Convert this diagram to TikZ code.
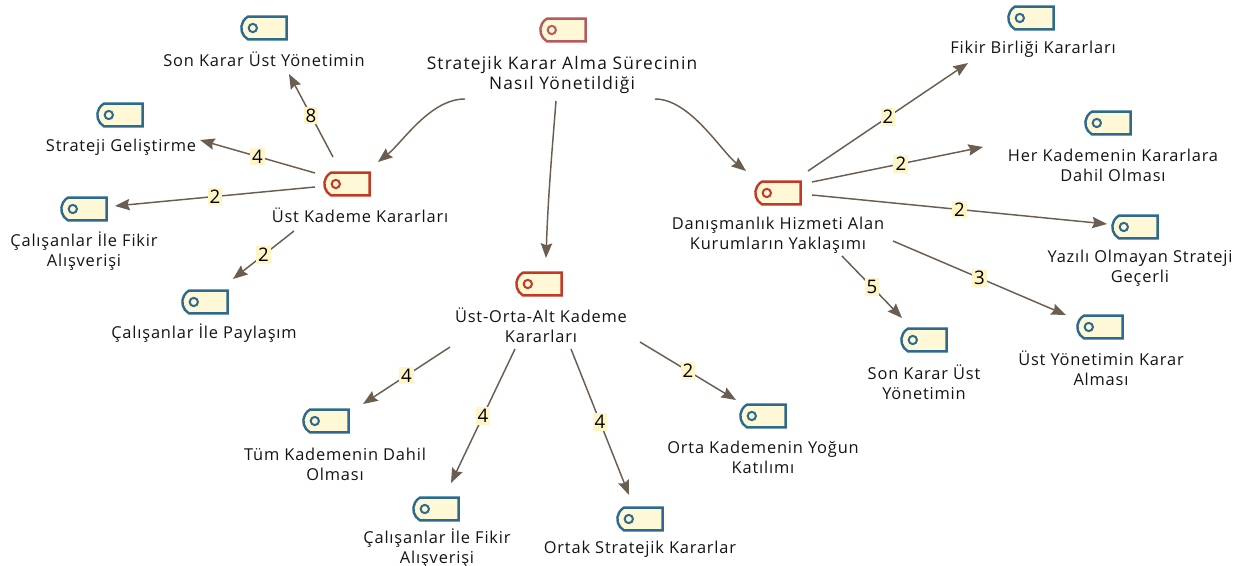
\documentclass[tikz,border=0pt]{standalone}
\usepackage{fontspec}
\setmainfont{Open Sans}[LetterSpace=5]
\newfontfamily\rootfont{Open Sans}[LetterSpace=7]
\usetikzlibrary{shapes.misc,arrows.meta}
\definecolor{iconfill}{HTML}{FFF8D6}
\definecolor{numfill}{HTML}{FFF5C6}
\definecolor{bluec}{HTML}{2D6A8E}
\definecolor{redc}{HTML}{C23A26}
\definecolor{rootc}{HTML}{B65A5E}
\definecolor{edgec}{HTML}{6B5E50}
\definecolor{textc}{HTML}{141414}
\tikzset{
  icon/.style={shape=rounded rectangle, rounded rectangle right arc=none,
    rounded rectangle arc length=120, minimum width=34pt, minimum height=17pt,
    inner sep=0pt, draw=#1, line width=1.8pt, fill=iconfill,
    path picture={\draw[#1,line width=1.5pt] ([xshift=10pt]path picture bounding box.west) circle (3.1pt);}},
  lbl/.style={align=center, font=\fontsize{12.3}{15}\selectfont, text=textc, inner sep=0pt},
  rootlbl/.style={align=center, font=\rootfont\fontsize{13}{15}\selectfont, text=textc, inner sep=0pt},
  num/.style={fill=numfill, inner sep=1.6pt, font=\fontsize{14}{15}\selectfont, text=black},
  edge/.style={draw=edgec, line width=1.1pt, -{Stealth[length=11pt,width=8.5pt,inset=1.5pt]}}
}
\begin{document}
\begin{tikzpicture}[x=0.75pt,y=-0.75pt]
\useasboundingbox[fill=white] (0,0) rectangle (1243,566);
% root
\node[icon=rootc] (root) at (563,30) {};
\node[rootlbl] (rootl) at (562,75.5) {Stratejik Karar Alma Sürecinin\\Nasıl Yönetildiği};
% main branches
\node[icon=redc] (uk) at (347,184) {};
\node[lbl] (ukl) at (360,215) {Üst Kademe Kararları};
\node[icon=redc] (uoa) at (539,284) {};
\node[lbl] (uoal) at (541,325.5) {Üst-Orta-Alt Kademe\\Kararları};
\node[icon=redc] (dh) at (778,193) {};
\node[lbl] (dhl) at (778,235) {Danışmanlık Hizmeti Alan\\Kurumların Yaklaşımı};
% leaves of uk
\node[icon=bluec] (skl) at (264,28) {};
\node[lbl] (skll) at (264,59) {Son Karar Üst Yönetimin};
\node[icon=bluec] (sg) at (120,115) {};
\node[lbl] (sgl) at (121,147) {Strateji Geliştirme};
\node[icon=bluec] (cfl) at (84,209) {};
\node[lbl] (cfll) at (84,251) {Çalışanlar İle Fikir\\Alışverişi};
\node[icon=bluec] (cp) at (205,302) {};
\node[lbl] (cpl) at (204,333) {Çalışanlar İle Paylaşım};
% leaves of uoa
\node[icon=bluec] (tk) at (326,421) {};
\node[lbl] (tkl) at (335,464) {Tüm Kademenin Dahil\\Olması};
\node[icon=bluec] (cfb) at (436,509) {};
\node[lbl] (cfbl) at (437,548.5) {Çalışanlar İle Fikir\\Alışverişi};
\node[icon=bluec] (ortak) at (640,519) {};
\node[lbl] (ortakl) at (640,549) {Ortak Stratejik Kararlar};
\node[icon=bluec] (ok) at (763,416) {};
\node[lbl] (okl) at (763,457.5) {Orta Kademenin Yoğun\\Katılımı};
% leaves of dh
\node[icon=bluec] (fb) at (1031,18) {};
\node[lbl] (fbl) at (1033,49) {Fikir Birliği Kararları};
\node[icon=bluec] (hk) at (1108,123) {};
\node[lbl] (hkl) at (1113,165) {Her Kademenin Kararlara\\Dahil Olması};
\node[icon=bluec] (ya) at (1135,227) {};
\node[lbl] (yal) at (1140,268) {Yazılı Olmayan Strateji\\Geçerli};
\node[icon=bluec] (skr) at (924,340) {};
\node[lbl] (skrl) at (924,382) {Son Karar Üst\\Yönetimin};
\node[icon=bluec] (uy) at (1100,327) {};
\node[lbl] (uyl) at (1101,368) {Üst Yönetimin Karar\\Alması};
% root curves
\draw[edge] ([shift={(-98,69)}]root.center) .. controls +(-35,0) and +(25,-20) .. ([shift={(31,-22)}]uk.center);
\draw[edge] ([shift={(-7,71)}]root.center) .. controls +(-4,50) and +(2,-60) .. ([shift={(7,-26)}]uoa.center);
\draw[edge] ([shift={(92,69)}]root.center) .. controls +(35,0) and +(-25,-20) .. ([shift={(-32,-22)}]dh.center);
% uk edges
\draw[edge] ([shift={(-14,-27)}]uk.center) -- node[num]{8} ([shift={(25,46)}]skl.center);
\draw[edge] ([shift={(-32,-11)}]uk.center) -- node[num]{4} ([shift={(80,25)}]sg.center);
\draw[edge] ([shift={(-32,3)}]uk.center) -- node[num]{2} ([shift={(31,-3)}]cfl.center);
\draw[edge] ([shift={(-53,47)}]uk.center) -- node[num]{2} ([shift={(28,-23)}]cp.center);
% uoa edges
\draw[edge] ([shift={(-89,63)}]uoa.center) -- node[num]{4} ([shift={(37,-17)}]tk.center);
\draw[edge] ([shift={(-24,65)}]uoa.center) -- node[num]{4} ([shift={(15,-26)}]cfb.center);
\draw[edge] ([shift={(32,65)}]uoa.center) -- node[num]{4} ([shift={(-11,-24)}]ortak.center);
\draw[edge] ([shift={(101,58)}]uoa.center) -- node[num]{2} ([shift={(-27,-16)}]ok.center);
% dh edges
\draw[edge] ([shift={(30,-22)}]dh.center) -- node[num]{2} ([shift={(-63,45)}]fb.center);
\draw[edge] ([shift={(34,-11)}]dh.center) -- node[num,pos=0.52]{2} ([shift={(-125,24)}]hk.center);
\draw[edge] ([shift={(34,2)}]dh.center) -- node[num]{2} ([shift={(-28,-3)}]ya.center);
\draw[edge] ([shift={(64,63)}]dh.center) -- node[num]{5} ([shift={(-22,-22)}]skr.center);
\draw[edge] ([shift={(115,48)}]dh.center) -- node[num]{3} ([shift={(-34,-12)}]uy.center);
\end{tikzpicture}
\end{document}
